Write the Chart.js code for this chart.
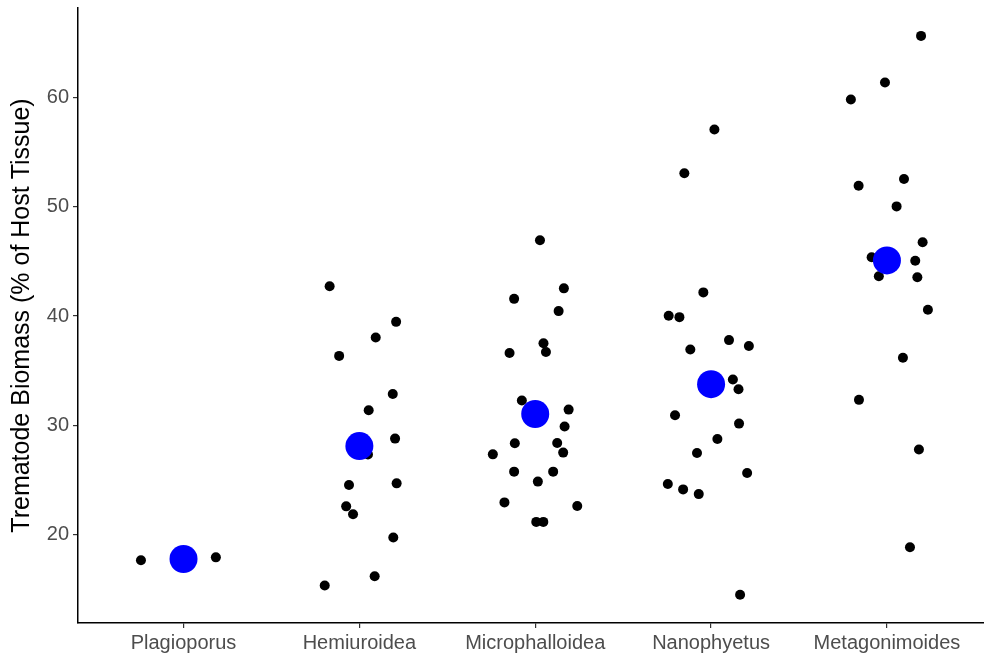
<!DOCTYPE html>
<html>
<head>
<meta charset="utf-8">
<script src="https://cdn.jsdelivr.net/npm/chart.js@4"></script>
<style>
  html, body { margin: 0; padding: 0; background: #fff; }
  #wrap { width: 984px; height: 656px; }
</style>
</head>
<body>
<div id="wrap"><canvas id="biomassChart" width="984" height="656"></canvas></div>
<script>
// categories on the x axis
const categories = ['Plagioporus', 'Hemiuroidea', 'Microphalloidea', 'Nanophyetus', 'Metagonimoides'];
const yTicks = [20, 30, 40, 50, 60];

// biomass per host, with the horizontal jitter of each dot
const plagioporus = [17.68, 17.95];
const plagioporusJitter = [-0.242, 0.184];

const hemiuroidea = [42.73, 39.47, 38.04, 36.36, 32.88, 31.39, 27.34, 28.80, 24.56, 24.71, 22.61, 21.88, 19.77, 16.23, 15.38];
const hemiuroideaJitter = [-0.169, 0.209, 0.093, -0.115, 0.190, 0.053, 0.049, 0.203, -0.059, 0.212, -0.075, -0.036, 0.193, 0.087, -0.197];

const microphalloidea = [46.92, 42.53, 41.57, 40.45, 37.52, 36.72, 36.63, 32.28, 31.45, 29.90, 28.37, 28.40, 27.52, 27.36, 25.78, 25.78, 24.87, 22.97, 22.64, 21.19, 21.19];
const microphalloideaJitter = [0.027, 0.163, -0.120, 0.133, 0.047, 0.061, -0.146, -0.076, 0.190, 0.167, -0.116, 0.125, 0.159, -0.241, -0.120, 0.102, 0.015, -0.175, 0.239, 0.006, 0.046];

const nanophyetus = [57.04, 53.05, 42.16, 40.02, 39.90, 37.80, 37.27, 36.94, 34.20, 33.31, 30.93, 30.17, 28.77, 27.48, 25.65, 24.65, 24.16, 23.73, 14.53];
const nanophyetusJitter = [0.019, -0.152, -0.044, -0.241, -0.180, 0.102, 0.215, -0.118, 0.124, 0.156, -0.205, 0.159, 0.036, -0.080, 0.205, -0.246, -0.159, -0.070, 0.165];

const metagonimoides = [65.60, 61.35, 59.79, 52.53, 51.91, 50.02, 46.75, 45.38, 45.05, 43.64, 43.55, 40.58, 36.19, 32.34, 27.80, 18.87];
const metagonimoidesJitter = [0.194, -0.011, -0.205, 0.097, -0.161, 0.055, 0.203, -0.087, 0.161, -0.046, 0.173, 0.233, 0.091, -0.159, 0.182, 0.131];

// group means (blue dots)
const groupMeans = [17.8, 28.12, 31.05, 33.77, 45.08];

const groups = [
    [plagioporus, plagioporusJitter],
    [hemiuroidea, hemiuroideaJitter],
    [microphalloidea, microphalloideaJitter],
    [nanophyetus, nanophyetusJitter],
    [metagonimoides, metagonimoidesJitter]
];

let rawPoints = [];
groups.forEach(function(g, i) {
    g[0].forEach(function(v, j) {
        rawPoints.push({ x: i + 1 + g[1][j], y: v });
    });
});

let meanPoints = groupMeans.map(function(m, i) { return { x: i + 1, y: m }; });

function fixedTicks(values) {
    return function(scale) {
        scale.ticks = values.map(function(v) { return { value: v }; });
    };
}

const font = 'Liberation Sans, Arial, sans-serif';

const ctx = document.getElementById('biomassChart').getContext('2d');
new Chart(ctx, {
    type: 'scatter',
    data: {
        datasets: [
            {
                label: 'mean',
                data: meanPoints,
                backgroundColor: '#0000FF',
                pointRadius: 14,
                borderWidth: 0,
                order: 0
            },
            {
                label: 'biomass',
                data: rawPoints,
                backgroundColor: '#000000',
                pointRadius: 5,
                borderWidth: 0,
                order: 1
            }
        ]
    },
    options: {
        responsive: false,
        animation: false,
        events: [],
        layout: { autoPadding: false, padding: { top: 8, left: 0, right: 0, bottom: 0 } },
        plugins: { legend: { display: false }, tooltip: { enabled: false } },
        scales: {
            x: {
                type: 'linear',
                min: 0.4,
                max: 5.552,
                afterBuildTicks: fixedTicks([1, 2, 3, 4, 5]),
                afterFit: function(scale) {
                    scale.height = 33;
                    scale.paddingLeft = 0; scale.paddingRight = 0;
                    scale.paddingTop = 0; scale.paddingBottom = 0;
                },
                border: { display: true, color: '#000', width: 1.5 },
                grid: { drawOnChartArea: false, drawTicks: true, tickLength: 5, color: '#333', lineWidth: 1.2 },
                ticks: {
                    padding: 3,
                    color: '#4D4D4D',
                    font: { family: font, size: 20 },
                    maxRotation: 0,
                    autoSkip: false,
                    callback: function(v) { return categories[v - 1]; }
                }
            },
            y: {
                min: 11.95,
                max: 68.15,
                afterBuildTicks: fixedTicks(yTicks),
                afterFit: function(scale) {
                    scale.width = 78;
                    scale.paddingLeft = 0; scale.paddingRight = 0;
                    scale.paddingTop = 0; scale.paddingBottom = 0;
                },
                border: { display: true, color: '#000', width: 1.5 },
                grid: { drawOnChartArea: false, drawTicks: true, tickLength: 5, color: '#333', lineWidth: 1.2 },
                ticks: {
                    padding: 4,
                    color: '#4D4D4D',
                    font: { family: font, size: 20 }
                },
                title: {
                    display: true,
                    text: 'Trematode Biomass (% of Host Tissue)',
                    color: '#000',
                    font: { family: font, size: 25, lineHeight: 1 },
                    padding: { top: 10, bottom: 0 }
                }
            }
        }
    }
});
</script>
</body>
</html>
